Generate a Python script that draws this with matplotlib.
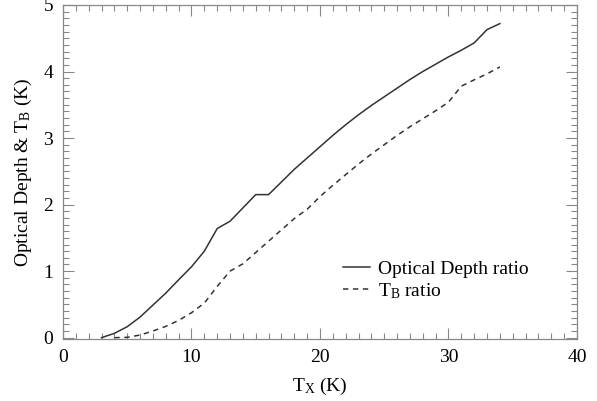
import matplotlib
matplotlib.use("Agg")
import matplotlib.pyplot as plt
from matplotlib.ticker import MultipleLocator

tx_solid = list(range(3, 35))
optical_depth = [0.0, 0.065, 0.165, 0.31, 0.49, 0.67, 0.87, 1.065, 1.30, 1.64,
                 1.75, 1.95, 2.15, 2.15, 2.34, 2.53, 2.70, 2.87, 3.04, 3.20,
                 3.35, 3.49, 3.62, 3.75, 3.88, 4.00, 4.11, 4.22, 4.32, 4.43,
                 4.63, 4.72]
tx_dash = list(range(4, 35))
tb_ratio = [0.0, 0.005, 0.04, 0.10, 0.17, 0.26, 0.375, 0.52, 0.77, 1.0,
            1.11, 1.28, 1.45, 1.62, 1.79, 1.93, 2.12, 2.29, 2.45, 2.61,
            2.76, 2.90, 3.04, 3.17, 3.29, 3.41, 3.54, 3.78, 3.875, 3.965,
            4.07]
xticks = [0, 10, 20, 30, 40]
yticks = [0, 1, 2, 3, 4, 5]

plt.rcParams['font.family'] = ['Liberation Serif']
plt.rcParams['mathtext.fontset'] = 'custom'
plt.rcParams['mathtext.rm'] = 'Liberation Serif'
plt.rcParams['mathtext.it'] = 'Liberation Serif:italic'

fig = plt.figure(figsize=(5.97, 4.01), dpi=100)
ax = fig.add_axes([0.1055, 0.1546, 0.861, 0.833])

lc = '#333333'
ax.plot(tx_solid, optical_depth, color=lc, lw=1.1, ls='-', label='Optical Depth ratio')
ax.plot(tx_dash, tb_ratio, color=lc, lw=1.1, ls=(0, (3.5, 3)), label=r'$\mathrm{T_B}$ ratio')

ax.set_xlim(0, 40)
ax.set_ylim(-0.02, 5.0)
ax.set_xticks(xticks)
ax.set_yticks(yticks)
ax.xaxis.set_minor_locator(MultipleLocator(1))
ax.yaxis.set_minor_locator(MultipleLocator(0.1))
ax.tick_params(which='both', direction='in', top=True, right=True, color='#888888',
               labelsize=14, labelcolor='black')
ax.tick_params(which='major', length=8, width=0.8, pad=7)
ax.tick_params(which='minor', length=4, width=0.8)
for s in ax.spines.values():
    s.set_color('#888888')
    s.set_linewidth(0.9)

ax.set_xlabel(r'$\mathrm{T_X}$ (K)', fontsize=14, labelpad=7)
ax.set_ylabel(r'Optical Depth & $\mathrm{T_B}$ (K)', fontsize=14, labelpad=7)

leg = ax.legend(loc='upper left', bbox_to_anchor=(0.545, 0.235), frameon=False,
                fontsize=14, handlelength=1.4, handletextpad=0.4, labelspacing=0.15,
                borderaxespad=0, borderpad=0)

fig.savefig('out.png', dpi=100)
